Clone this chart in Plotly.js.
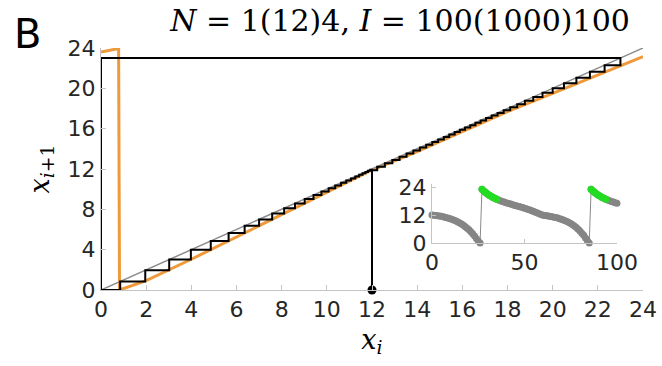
<!DOCTYPE html>
<html>
<head>
<meta charset="utf-8">
<script src="https://cdn.plot.ly/plotly-3.0.1.min.js"></script>
<style>html,body{margin:0;padding:0;background:#fff;}</style>
</head>
<body>
<div id="chart" style="width:662px;height:366px;"></div>
<script>
// Orbit x_i of the map, iterations i = 0..100
const orbit = [
  12.0, 11.92, 11.82, 11.71, 11.58, 11.43, 11.26, 11.07, 10.86, 10.63,
  10.37, 10.08, 9.76, 9.41, 9.02, 8.59, 8.11, 7.58, 7.0, 6.36,
  5.65, 4.86, 3.98, 3.02, 1.96, 0.85, 0.0,
  23.0, 22.3, 21.65, 21.05, 20.5, 20.0, 19.55, 19.14, 18.77, 18.43,
  18.12, 17.83, 17.56, 17.3, 17.05, 16.81, 16.58, 16.35, 16.12, 15.89,
  15.66, 15.42, 15.18, 14.93, 14.67, 14.4, 14.12, 13.83, 13.53, 13.22,
  12.9, 12.57, 12.23, 11.88,
  11.78, 11.67, 11.55, 11.41, 11.26, 11.09, 10.9, 10.69, 10.46, 10.2,
  9.91, 9.59, 9.23, 8.83, 8.38, 7.88, 7.32, 6.7, 5.95, 5.15,
  4.25, 3.3, 2.2, 0.95, 0.0,
  23.0, 22.3, 21.65, 21.05, 20.5, 20.0, 19.55, 19.14, 18.77, 18.43,
  18.12, 17.83, 17.56, 17.3, 17.05
];

// The return map x_{i+1} = f(x_i)
const mapX = [0, 0.78, 0.82, 2, 4, 6, 8, 10, 12, 14, 16, 18, 20, 22, 24];
const mapY = [23.6, 23.95, 0, 0.93, 3.05, 5.28, 7.47, 9.68, 11.9, 13.72, 15.68, 17.7, 19.5, 21.35, 23.15];

// Identity line
const diagX = [0, 24];
const diagY = [0, 24];

const xTicks = [0, 2, 4, 6, 8, 10, 12, 14, 16, 18, 20, 22, 24];
const yTicks = [0, 4, 8, 12, 16, 20, 24];
const insetXTicks = [0, 50, 100];
const insetYTicks = [0, 12, 24];

const highLevel = 18.6;   // values above this are shown in green
const cobwebSteps = 60;   // one full cycle of the orbit

// Cobweb path: (x0,0) -> (x0,x1) -> (x1,x1) -> (x1,x2) -> ...
const cobX = [orbit[0]], cobY = [0];
for (let k = 0; k < cobwebSteps; k++) {
  cobX.push(orbit[k]);     cobY.push(orbit[k + 1]);
  cobX.push(orbit[k + 1]); cobY.push(orbit[k + 1]);
}

const iter = orbit.map((_, i) => i);
const hiX = [], hiY = [];
orbit.forEach((v, i) => { if (v > highLevel) { hiX.push(i); hiY.push(v); } });

const sans = 'DejaVu Sans, Arial, sans-serif';
const serif = 'DejaVu Serif, Times New Roman, serif';
const axisGrey = '#c4c4c4';
const tickText = '#262626';

const traces = [
  { x: mapX, y: mapY, mode: 'lines', line: { color: '#ef9a3a', width: 3 },
    hoverinfo: 'skip', xaxis: 'x', yaxis: 'y' },
  { x: diagX, y: diagY, mode: 'lines', line: { color: '#8c8c8c', width: 1.5 },
    hoverinfo: 'skip', xaxis: 'x', yaxis: 'y' },
  { x: cobX, y: cobY, mode: 'lines', line: { color: '#000000', width: 2 },
    hoverinfo: 'skip', xaxis: 'x', yaxis: 'y' },
  { x: [orbit[0]], y: [0], mode: 'markers', marker: { color: '#000', size: 9 },
    cliponaxis: false, xaxis: 'x', yaxis: 'y' },
  // inset time series
  { x: iter, y: orbit, mode: 'lines+markers', line: { color: '#8a8a8a', width: 1 },
    marker: { color: '#858585', size: 7 }, cliponaxis: false, xaxis: 'x2', yaxis: 'y2' },
  { x: hiX, y: hiY, mode: 'markers', marker: { color: '#22dd22', size: 7 },
    cliponaxis: false, xaxis: 'x2', yaxis: 'y2' }
];

const layout = {
  width: 662, height: 366,
  margin: { l: 101, r: 19, t: 48, b: 76 },
  paper_bgcolor: '#fff', plot_bgcolor: 'rgba(0,0,0,0)',
  showlegend: false,
  title: {
    text: '<i>N</i> = 1(12)4, <i>I</i> = 100(1000)100',
    font: { family: serif, size: 30, color: '#000' },
    x: 400 / 662, xanchor: 'center', y: 1 - 20 / 366, yanchor: 'middle'
  },
  xaxis: {
    range: [0, 24], tickvals: xTicks, ticktext: xTicks.map(String),
    ticks: 'inside', ticklen: 5, tickcolor: axisGrey,
    showline: true, linecolor: axisGrey, linewidth: 1,
    showgrid: false, zeroline: false,
    tickfont: { family: sans, size: 22, color: tickText },
    title: { text: '<i>x</i><sub><i>i</i></sub>', font: { family: serif, size: 27, color: '#000' }, standoff: 8 }
  },
  yaxis: {
    range: [0, 24], tickvals: yTicks, ticktext: yTicks.map(String),
    ticks: 'inside', ticklen: 5, tickcolor: axisGrey,
    showline: true, linecolor: axisGrey, linewidth: 1,
    showgrid: false, zeroline: false,
    tickfont: { family: sans, size: 22, color: tickText },
    title: { text: '<i>x</i><sub><i>i</i>+1</sub>', font: { family: serif, size: 27, color: '#000' }, standoff: 10 }
  },
  xaxis2: {
    domain: [0.6107, 0.952], anchor: 'y2', range: [0, 100],
    tickvals: insetXTicks, ticktext: insetXTicks.map(String),
    ticks: 'inside', ticklen: 4, tickcolor: axisGrey,
    showline: true, linecolor: axisGrey, linewidth: 1,
    showgrid: false, zeroline: false,
    tickfont: { family: sans, size: 22, color: tickText }
  },
  yaxis2: {
    domain: [0.194, 0.44], anchor: 'x2', range: [0, 25.5],
    tickvals: insetYTicks, ticktext: insetYTicks.map(String),
    ticks: 'inside', ticklen: 4, tickcolor: axisGrey,
    showline: true, linecolor: axisGrey, linewidth: 1,
    showgrid: false, zeroline: false,
    tickfont: { family: sans, size: 22, color: tickText }
  },
  annotations: [
    { text: 'B', xref: 'paper', yref: 'paper', x: (27 - 101) / 542, y: (290 - 34) / 242,
      xanchor: 'center', yanchor: 'middle', showarrow: false,
      font: { family: sans, size: 40, color: '#000' } }
  ]
};

Plotly.newPlot('chart', traces, layout, { displayModeBar: false, staticPlot: true });
</script>
</body>
</html>
